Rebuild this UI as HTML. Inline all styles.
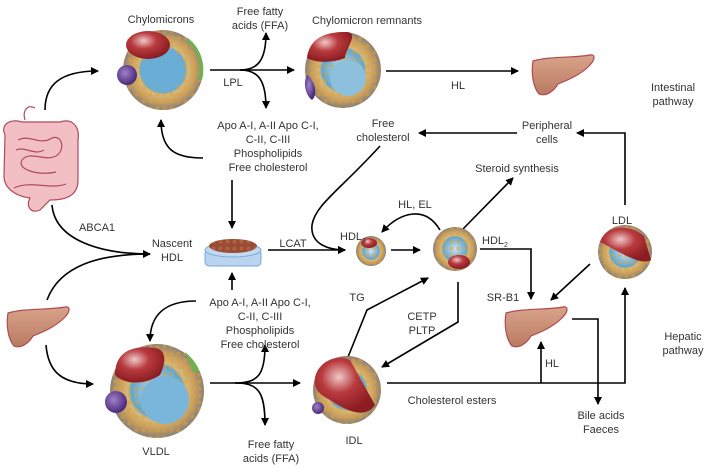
<!DOCTYPE html>
<html><head><meta charset="utf-8"><style>
body{margin:0;background:#fff}
svg{display:block}
text{font-family:"Liberation Sans",sans-serif;font-size:11px;fill:#333;text-anchor:middle}
</style></head><body>
<svg width="706" height="465" viewBox="0 0 706 465">
<defs>
<marker id="a" markerWidth="8" markerHeight="8" refX="7" refY="4" orient="auto" markerUnits="userSpaceOnUse"><path d="M0,0L8,4L0,8z" fill="#000"/></marker>
<radialGradient id="core" cx="50%" cy="50%" r="50%"><stop offset="0" stop-color="#cfe0e8"/><stop offset="0.55" stop-color="#5fa6cf"/><stop offset="0.62" stop-color="#d8b878"/><stop offset="0.8" stop-color="#c9a060"/><stop offset="1" stop-color="#8a8078"/></radialGradient>
<radialGradient id="red" cx="40%" cy="35%" r="65%"><stop offset="0" stop-color="#f0c8c8"/><stop offset="0.45" stop-color="#b83a3e"/><stop offset="1" stop-color="#8a1c22"/></radialGradient>
<radialGradient id="pur" cx="40%" cy="40%" r="60%"><stop offset="0" stop-color="#a080c8"/><stop offset="1" stop-color="#4a2a7a"/></radialGradient>
<linearGradient id="liv" x1="0" y1="0" x2="0" y2="1"><stop offset="0" stop-color="#d9a48a"/><stop offset="1" stop-color="#b97a62"/></linearGradient>
<pattern id="dots" width="7" height="7" patternUnits="userSpaceOnUse"><circle cx="3.5" cy="3.5" r="2" fill="#e0a030"/></pattern>
<g id="liver"><path d="M3,8 C20,3 45,5 60,2 C66,1 65,7 59,13 C50,22 38,27 28,31 C24,38 16,44 9,41 C3,34 1,20 3,8z" fill="url(#liv)" stroke="#b04a50" stroke-width="1.2"/></g>
</defs>

<g fill="none" stroke="#000" stroke-width="1.6">
<path d="M45,110 C45,85 60,71 98,71" marker-end="url(#a)"/>
<path d="M210,70 L294,70" marker-end="url(#a)"/>
<path d="M240,70 C258,70 266,60 266,33" marker-end="url(#a)"/>
<path d="M240,70 C258,70 266,80 266,108" marker-end="url(#a)"/>
<path d="M203,158 C175,158 161,150 161,120" marker-end="url(#a)"/>
<path d="M232,180 L232,228" marker-end="url(#a)"/>
<path d="M386,71 L518,71" marker-end="url(#a)"/>
<path d="M52,205 C55,240 100,254 150,254" marker-end="url(#a)"/>
<path d="M47,300 C60,265 100,254 150,254"/>
<path d="M46,345 C48,370 60,384 93,384" marker-end="url(#a)"/>
<path d="M196,301 C165,301 150,315 150,341" marker-end="url(#a)"/>
<path d="M232,290 L232,273" marker-end="url(#a)"/>
<path d="M210,383 L300,383" marker-end="url(#a)"/>
<path d="M235,383 C258,383 265,375 265,345" marker-end="url(#a)"/>
<path d="M235,383 C258,383 265,391 265,425" marker-end="url(#a)"/>
<path d="M268,250 L345,250" marker-end="url(#a)"/>
<path d="M380,146 C340,190 315,205 312,225 C310,245 330,250 345,250" marker-end="url(#a)"/>
<path d="M391,250 L420,250" marker-end="url(#a)"/>
<path d="M440,230 C425,205 400,212 382,232" marker-end="url(#a)"/>
<path d="M463,229 L513,178" marker-end="url(#a)"/>
<path d="M517,133 L419,133" marker-end="url(#a)"/>
<path d="M625,205 L625,133 L577,133" marker-end="url(#a)"/>
<path d="M480,249 L531,249 L531,299" marker-end="url(#a)"/>
<path d="M590,264 L551,300" marker-end="url(#a)"/>
<path d="M348,357 L367,310 L428,278" marker-end="url(#a)"/>
<path d="M458,282 L458,322 L382,367" marker-end="url(#a)"/>
<path d="M387,383 L625,383 L625,288" marker-end="url(#a)"/>
<path d="M541,383 L541,342" marker-end="url(#a)"/>
<path d="M572,319 L598,319 L598,404" marker-end="url(#a)"/>
</g>

<!-- Intestine -->
<g fill="#f2c0c4" stroke="#b04a5a" stroke-width="1.2">
<path d="M5,135 C0,125 10,118 22,122 L60,122 C72,118 80,126 78,140 L78,180 C78,196 66,200 50,200 L40,210 C30,214 26,206 30,198 C15,196 4,188 4,176z"/>
<path d="M18,140 C30,134 40,146 52,138 C62,134 66,150 56,156 C44,162 30,150 22,160 C16,170 40,176 56,172 M14,188 C30,180 50,190 66,184 M16,150 C26,146 34,156 44,150" fill="none"/>
<path d="M25,120 C22,110 28,104 35,108" fill="none"/>
</g>

<use href="#liver" transform="translate(530,53)"/>
<use href="#liver" transform="translate(5,305)"/>
<use href="#liver" transform="translate(503,305)"/>

<g>
<circle cx="163" cy="70" r="40" fill="url(#core)"/>
<circle cx="163" cy="70" r="40" fill="url(#dots)" opacity="0.5"/>
<circle cx="163" cy="70" r="22" fill="#6aaed6"/>
<path d="M188,38 A40,40 0 0 1 202,80 L198,80 A38,38 0 0 0 186,40z" fill="#70b050"/>
<ellipse cx="148" cy="45" rx="22" ry="14" fill="url(#red)"/>
<circle cx="127" cy="75" r="10" fill="url(#pur)"/>
</g>
<g>
<circle cx="343" cy="70" r="38" fill="url(#core)"/>
<circle cx="343" cy="70" r="38" fill="url(#dots)" opacity="0.5"/>
<circle cx="348" cy="78" r="18" fill="#8cc0dc"/>
<path d="M307,58 C310,35 330,32 346,32 C360,32 346,48 345,58 C335,62 318,64 307,58z" fill="url(#red)"/>
<path d="M307,75 C315,80 318,95 312,100 C305,95 303,82 307,75z" fill="url(#pur)"/>
</g>
<g>
<rect x="205" y="250" width="56" height="16" rx="4" fill="#b8d4ee" stroke="#7aa8d8"/>
<ellipse cx="233" cy="250" rx="28" ry="7" fill="#c0d8f0" stroke="#7aa8d8"/>
<ellipse cx="233" cy="246" rx="24" ry="7" fill="#9a4a38"/>
<ellipse cx="233" cy="246" rx="24" ry="7" fill="url(#dots)" opacity="0.3"/>
</g>
<circle cx="371" cy="251" r="15" fill="url(#core)"/>
<circle cx="371" cy="251" r="15" fill="url(#dots)" opacity="0.5"/>
<ellipse cx="369" cy="243" rx="8" ry="5" fill="url(#red)"/>
<circle cx="455" cy="249" r="22" fill="url(#core)"/>
<circle cx="455" cy="249" r="22" fill="url(#dots)" opacity="0.5"/>
<ellipse cx="459" cy="262" rx="11" ry="7" fill="url(#red)"/>
<circle cx="625" cy="252" r="27" fill="url(#core)"/>
<circle cx="625" cy="252" r="27" fill="url(#dots)" opacity="0.5"/>
<path d="M600,242 C606,224 630,224 644,236 L651,260 C640,266 620,252 600,242z" fill="url(#red)"/>
<g>
<circle cx="157" cy="391" r="47" fill="url(#core)"/>
<circle cx="157" cy="391" r="47" fill="url(#dots)" opacity="0.5"/>
<circle cx="165" cy="400" r="24" fill="#7ab6da"/>
<path d="M115,375 C115,350 135,345 155,348 C168,350 165,365 160,375 C145,385 125,385 115,375z" fill="url(#red)"/>
<circle cx="116" cy="402" r="11" fill="url(#pur)"/>
<path d="M185,352 A47,47 0 0 1 200,372 L193,372z" fill="#70b050"/>
</g>
<g>
<circle cx="347" cy="390" r="34" fill="url(#core)"/>
<circle cx="347" cy="390" r="34" fill="url(#dots)" opacity="0.5"/>
<path d="M315,385 C312,365 335,352 350,360 L375,405 C365,420 345,410 330,400 C320,395 316,390 315,385z" fill="url(#red)"/>
<circle cx="318" cy="408" r="6" fill="url(#pur)"/>
</g>

<text x="161" y="23">Chylomicrons</text>
<text x="260" y="15">Free fatty</text>
<text x="260" y="29">acids (FFA)</text>
<text x="233" y="86">LPL</text>
<text x="367" y="24">Chylomicron remnants</text>
<text x="458" y="89">HL</text>
<text x="673" y="91">Intestinal</text>
<text x="673" y="105">pathway</text>
<text x="268" y="129">Apo A-I, A-II Apo C-I,</text>
<text x="268" y="143">C-II, C-III</text>
<text x="268" y="157">Phospholipids</text>
<text x="268" y="171">Free cholesterol</text>
<text x="383" y="127">Free</text>
<text x="383" y="141">cholesterol</text>
<text x="547" y="129">Peripheral</text>
<text x="547" y="143">cells</text>
<text x="517" y="172">Steroid synthesis</text>
<text x="97" y="231">ABCA1</text>
<text x="172" y="247">Nascent</text>
<text x="172" y="261">HDL</text>
<text x="293" y="247">LCAT</text>
<text x="415" y="208">HL, EL</text>
<text x="353" y="240">HDL<tspan font-size="7" dy="3">3</tspan></text>
<text x="495" y="244">HDL<tspan font-size="7" dy="3">2</tspan></text>
<text x="622" y="224">LDL</text>
<text x="260" y="306">Apo A-I, A-II Apo C-I,</text>
<text x="260" y="320">C-II, C-III</text>
<text x="260" y="334">Phospholipids</text>
<text x="260" y="348">Free cholesterol</text>
<text x="357" y="301">TG</text>
<text x="422" y="320">CETP</text>
<text x="422" y="334">PLTP</text>
<text x="503" y="301">SR-B1</text>
<text x="552" y="367">HL</text>
<text x="683" y="340">Hepatic</text>
<text x="683" y="354">pathway</text>
<text x="452" y="404">Cholesterol esters</text>
<text x="601" y="419">Bile acids</text>
<text x="601" y="433">Faeces</text>
<text x="156" y="455">VLDL</text>
<text x="354" y="444">IDL</text>
<text x="271" y="448">Free fatty</text>
<text x="271" y="462">acids (FFA)</text>
</svg>
</body></html>
